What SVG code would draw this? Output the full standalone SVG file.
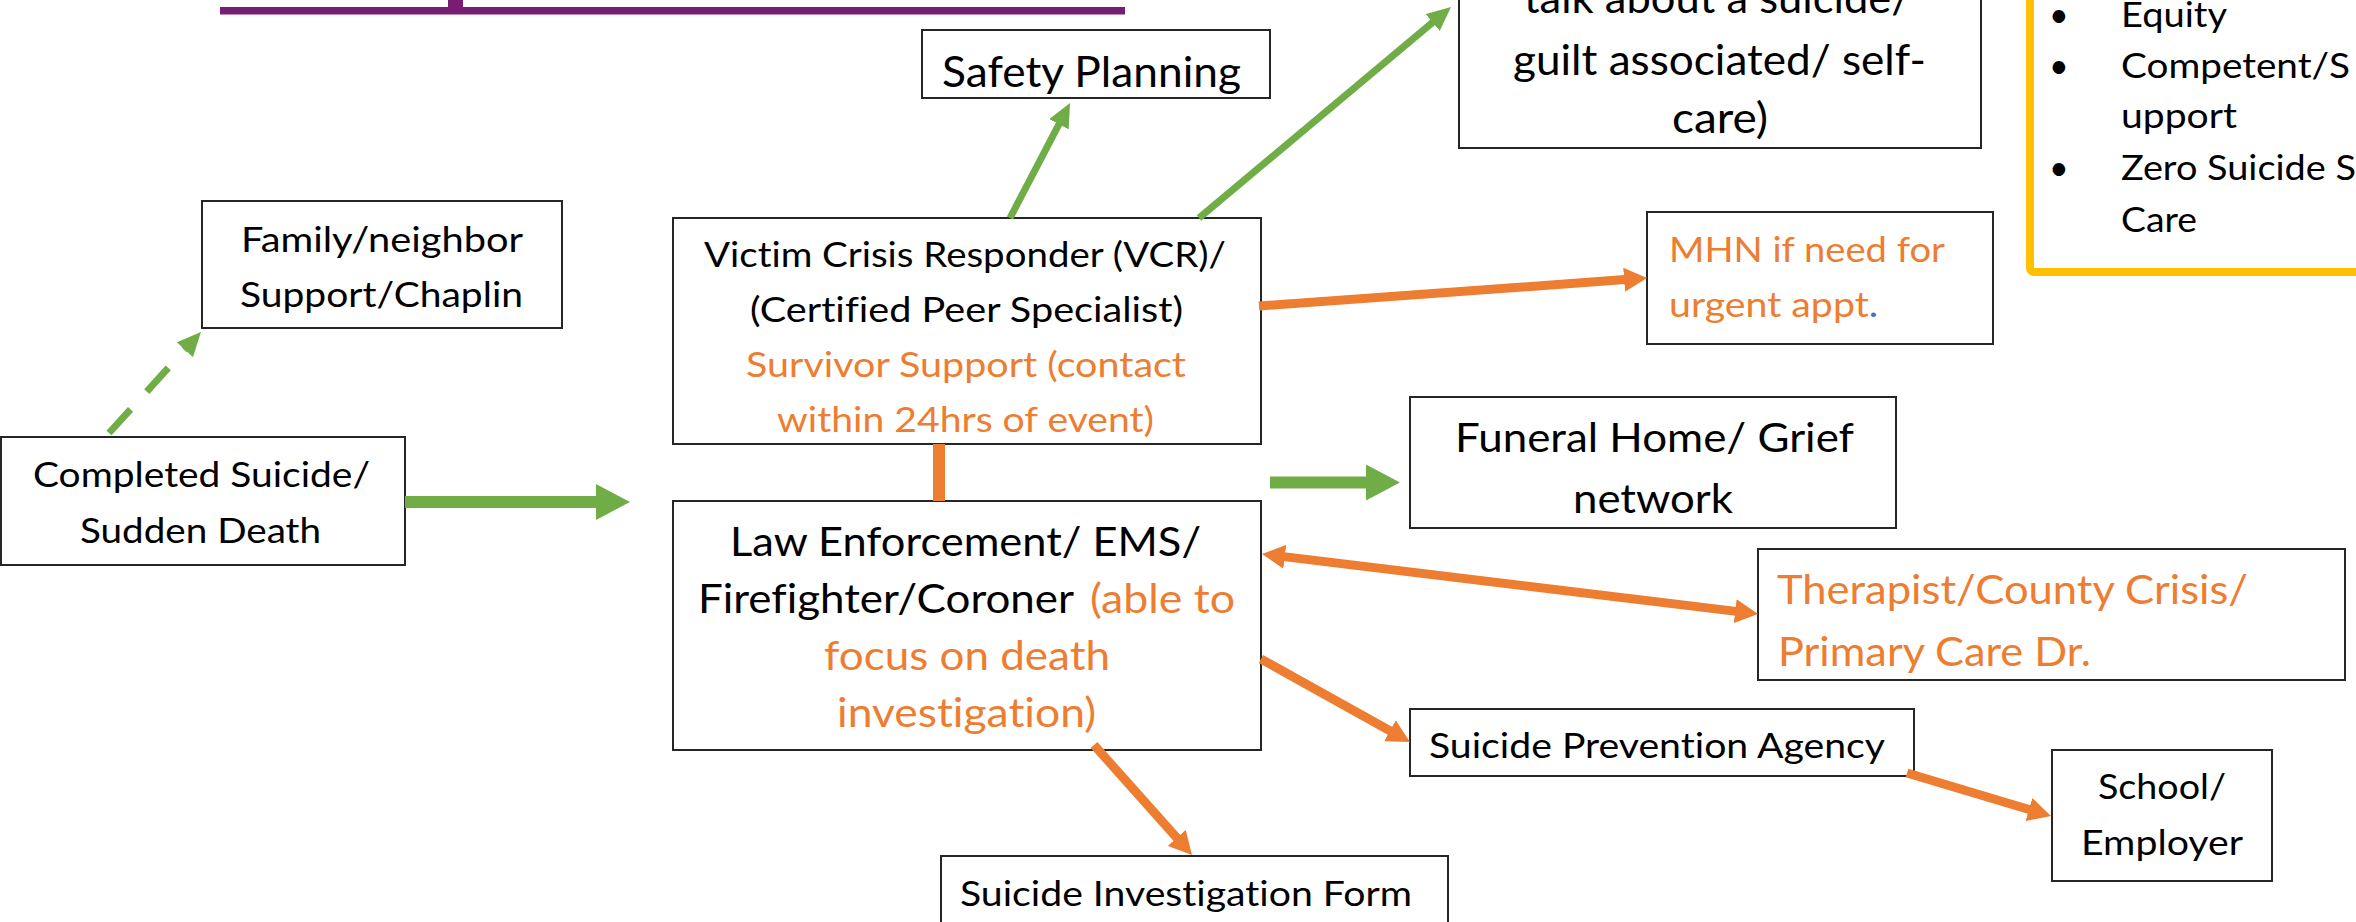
<svg xmlns="http://www.w3.org/2000/svg" width="2356" height="922" viewBox="0 0 2356 922">
<style>
.box{fill:#fff;stroke:#262626;stroke-width:2}
.t{font-family:Lato,"Liberation Sans",sans-serif;fill:#000;font-variant-ligatures:none}
.o{fill:#ED7D31}
.s35{font-size:35px}
.s40{font-size:40px}
.s42{font-size:42px}
.s34{font-size:34px}
.g{stroke:#70AD47;fill:none}
.or{stroke:#ED7D31;fill:none}
</style>
<defs>
<marker id="gH" markerUnits="userSpaceOnUse" viewBox="0 0 34 36" refX="1" refY="18" markerWidth="34" markerHeight="36" orient="auto"><path d="M0,0 L34,18 L0,36 z" fill="#70AD47"/></marker>
<marker id="gh" markerUnits="userSpaceOnUse" viewBox="0 0 24 22" refX="1" refY="11" markerWidth="24" markerHeight="22" orient="auto"><path d="M0,0 L24,11 L0,22 z" fill="#70AD47"/></marker>
<marker id="oh" markerUnits="userSpaceOnUse" viewBox="0 0 23 24" refX="1" refY="12" markerWidth="23" markerHeight="24" orient="auto"><path d="M0,0 L23,12 L0,24 z" fill="#ED7D31"/></marker>
<marker id="ohs" markerUnits="userSpaceOnUse" viewBox="0 0 23 24" refX="22" refY="12" markerWidth="23" markerHeight="24" orient="auto"><path d="M23,0 L0,12 L23,24 z" fill="#ED7D31"/></marker>
</defs>
<rect width="2356" height="922" fill="#fff"/>

<g id="purple-line" fill="#781C74">
<rect x="220" y="7" width="905" height="7.5"/>
<rect x="448" y="0" width="15" height="10"/>
</g>

<g id="yellow-box">
<rect x="2030" y="-20" width="400" height="292" rx="4" fill="#fff" stroke="#FFC000" stroke-width="8"/>
<text class="t s34" x="2049" y="27">•</text>
<text class="t s34" x="2121" y="27" textLength="106" lengthAdjust="spacingAndGlyphs">Equity</text>
<text class="t s34" x="2049" y="78">•</text>
<text class="t s34" x="2121" y="78" textLength="229" lengthAdjust="spacingAndGlyphs">Competent/S</text>
<text class="t s34" x="2121" y="128" textLength="116" lengthAdjust="spacingAndGlyphs">upport</text>
<text class="t s34" x="2049" y="180">•</text>
<text class="t s34" x="2121" y="180" textLength="235" lengthAdjust="spacingAndGlyphs">Zero Suicide S</text>
<text class="t s34" x="2121" y="232" textLength="76" lengthAdjust="spacingAndGlyphs">Care</text>
</g>

<g id="completed-suicide">
<rect class="box" x="1" y="437" width="404" height="128"/>
<text class="t s35" x="33" y="487" textLength="337" lengthAdjust="spacingAndGlyphs">Completed Suicide/</text>
<text class="t s35" x="80" y="543" textLength="241" lengthAdjust="spacingAndGlyphs">Sudden Death</text>
</g>

<g id="family-support">
<rect class="box" x="202" y="201" width="360" height="127"/>
<text class="t s35" x="241" y="252" textLength="282" lengthAdjust="spacingAndGlyphs">Family/neighbor</text>
<text class="t s35" x="240" y="307" textLength="283" lengthAdjust="spacingAndGlyphs">Support/Chaplin</text>
</g>

<g id="safety-planning">
<rect class="box" x="922" y="30" width="348" height="68"/>
<text class="t" font-size="43" x="942" y="87" textLength="299" lengthAdjust="spacingAndGlyphs">Safety Planning</text>
</g>

<g id="talk-box">
<rect class="box" x="1459" y="-10" width="522" height="158"/>
<text class="t s42" x="1524" y="13" textLength="387" lengthAdjust="spacingAndGlyphs">talk about a suicide/</text>
<text class="t s42" x="1513" y="75" textLength="413" lengthAdjust="spacingAndGlyphs">guilt associated/ self-</text>
<text class="t s42" x="1672" y="133" textLength="96" lengthAdjust="spacingAndGlyphs">care)</text>
</g>

<g id="vcr">
<rect class="box" x="673" y="218" width="588" height="226"/>
<text class="t s35" x="704" y="267" textLength="522" lengthAdjust="spacingAndGlyphs">Victim Crisis Responder (VCR)/</text>
<text class="t s35" x="750" y="322" textLength="433" lengthAdjust="spacingAndGlyphs">(Certified Peer Specialist)</text>
<text class="t s35 o" x="746" y="377" textLength="440" lengthAdjust="spacingAndGlyphs">Survivor Support (contact</text>
<text class="t s35 o" x="777" y="432" textLength="377" lengthAdjust="spacingAndGlyphs">within 24hrs of event)</text>
</g>

<g id="law-enforcement">
<rect class="box" x="673" y="501" width="588" height="249"/>
<text class="t s40" x="730" y="556" textLength="471" lengthAdjust="spacingAndGlyphs">Law Enforcement/ EMS/</text>
<text class="t s40" x="698" y="613" textLength="376" lengthAdjust="spacingAndGlyphs">Firefighter/Coroner</text>
<text class="t s40 o" x="1090" y="613" textLength="145" lengthAdjust="spacingAndGlyphs">(able to</text>
<text class="t s40 o" x="824" y="670" textLength="286" lengthAdjust="spacingAndGlyphs">focus on death</text>
<text class="t s40 o" x="837" y="727" textLength="259" lengthAdjust="spacingAndGlyphs">investigation)</text>
</g>

<g id="funeral-home">
<rect class="box" x="1410" y="397" width="486" height="131"/>
<text class="t" font-size="41" x="1455" y="452" textLength="399" lengthAdjust="spacingAndGlyphs">Funeral Home/ Grief</text>
<text class="t" font-size="41" x="1573" y="513" textLength="160" lengthAdjust="spacingAndGlyphs">network</text>
</g>

<g id="mhn">
<rect class="box" x="1647" y="212" width="346" height="132"/>
<text class="t s35 o" x="1669" y="262" textLength="276" lengthAdjust="spacingAndGlyphs">MHN if need for</text>
<text class="t s35 o" x="1669" y="317" textLength="209" lengthAdjust="spacingAndGlyphs">urgent appt<tspan fill="#4472C4">.</tspan></text>
</g>

<g id="therapist">
<rect class="box" x="1758" y="549" width="587" height="131"/>
<text class="t s40 o" x="1777" y="604" textLength="471" lengthAdjust="spacingAndGlyphs">Therapist/County Crisis/</text>
<text class="t s40 o" x="1778" y="666" textLength="313" lengthAdjust="spacingAndGlyphs">Primary Care Dr.</text>
</g>

<g id="suicide-prevention-agency">
<rect class="box" x="1410" y="709" width="504" height="67"/>
<text class="t s35" x="1429" y="758" textLength="456" lengthAdjust="spacingAndGlyphs">Suicide Prevention Agency</text>
</g>

<g id="school-employer">
<rect class="box" x="2052" y="750" width="220" height="131"/>
<text class="t s35" x="2098" y="799" textLength="128" lengthAdjust="spacingAndGlyphs">School/</text>
<text class="t s35" x="2081" y="855" textLength="162" lengthAdjust="spacingAndGlyphs">Employer</text>
</g>

<g id="suicide-investigation-form">
<rect class="box" x="941" y="856" width="507" height="90"/>
<text class="t s35" x="960" y="906" textLength="452" lengthAdjust="spacingAndGlyphs">Suicide Investigation Form</text>
</g>

<g id="connectors">
<path class="g" d="M109,433 L185.5,349" stroke-width="7" stroke-dasharray="32 24" marker-end="url(#gh)"/>
<path class="g" d="M405,502 L597,502" stroke-width="12" marker-end="url(#gH)"/>
<path class="g" d="M1270,482.5 L1367,482.5" stroke-width="12" marker-end="url(#gH)"/>
<path class="g" d="M1010,218 L1059.4,123.4" stroke-width="7" marker-end="url(#gh)"/>
<path class="g" d="M1199,218 L1433.4,21.8" stroke-width="7" marker-end="url(#gh)"/>
<path class="or" d="M939,444 L939,501" stroke-width="12"/>
<path class="or" d="M1259,306 L1625.1,279.6" stroke-width="9" marker-end="url(#oh)"/>
<path class="or" d="M1283.8,556.6 L1736.2,611.4" stroke-width="9" marker-start="url(#ohs)" marker-end="url(#oh)"/>
<path class="or" d="M1261,659 L1390.8,731.3" stroke-width="9" marker-end="url(#oh)"/>
<path class="or" d="M1907,773 L2029.9,809.8" stroke-width="9" marker-end="url(#oh)"/>
<path class="or" d="M1094,745 L1177.4,838.6" stroke-width="9" marker-end="url(#oh)"/>
</g>
</svg>
